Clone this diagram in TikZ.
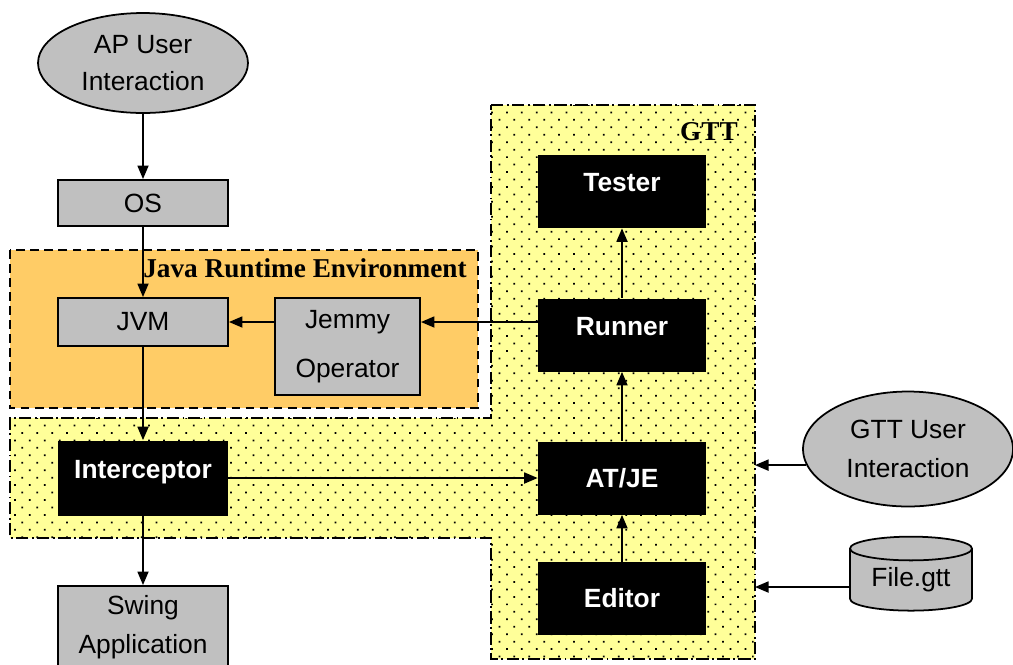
\documentclass[tikz,border=0pt]{standalone}
\usepackage{fontspec}
\setmainfont{Liberation Sans}
\newfontfamily\labelfont{Liberation Serif}
\usetikzlibrary{arrows.meta, shapes.geometric, patterns.meta}

\definecolor{boxgray}{RGB}{192,192,192}
\definecolor{jreorange}{RGB}{255,204,102}
\definecolor{gttyellow}{RGB}{255,255,153}

\begin{document}
\begin{tikzpicture}[x=0.02cm, y=-0.02cm,
    font=\fontsize{15}{21.5}\selectfont,
    arr/.style={-{Triangle[length=0.27cm, width=0.22cm]}, line width=1pt},
    graybox/.style={draw, line width=1.1pt, fill=boxgray, minimum width=3.4cm, align=center, inner sep=0pt},
    blackbox/.style={fill=black, text=white, font=\fontsize{15}{18}\selectfont\bfseries, minimum width=3.36cm, minimum height=1.46cm, inner sep=0pt},
    toptext/.style={text height=0.3cm, text depth=0.3cm},
    user/.style={ellipse, draw, line width=1pt, fill=boxgray, align=center, inner sep=0pt, minimum width=4.2cm},
    regionlbl/.style={font=\labelfont\bfseries\fontsize{15.5}{18}\selectfont, inner sep=0pt},
    dashdot/.style={line width=1.1pt, dash pattern=on 7pt off 2pt on 1pt off 2pt}]
    \useasboundingbox (0,0) rectangle (1013,664);

    % JRE 区域
    \draw[fill=jreorange, line width=1.1pt, dash pattern=on 5pt off 3pt] (10,250) rectangle (478,408);
    \node[regionlbl, anchor=east] (jrelbl) at (467,268) {Java Runtime Environment};

    % GTT 区域
    \draw[dashdot, preaction={fill=gttyellow}, pattern={Dots[distance=6pt, angle=45, radius=0.7pt]}]
        (491,105) -- (755,105) -- (755,659) -- (491,659) -- (491,538)
        -- (10,538) -- (10,418) -- (491,418) -- cycle;
    \node[regionlbl, anchor=east] (gttlbl) at (738,132) {GTT};
    \coordinate (gttE) at (755,0);

    % 左侧
    \node[user, minimum height=2cm] (apui) at (143,63) {AP User\\Interaction};
    \node[graybox, minimum height=0.92cm] (os) at (143,203) {OS};
    \node[graybox, minimum height=0.96cm] (jvm) at (143,322) {JVM};
    \node[graybox, minimum width=2.9cm, minimum height=1.94cm, font=\fontsize{15}{27.5}\selectfont] (jemmy) at (347.5,346.5) {Jemmy\\Operator};
    \node[blackbox, toptext, minimum width=3.4cm, minimum height=1.5cm] (icpt) at (143,478) {Interceptor};
    \node[graybox, minimum height=1.64cm, font=\fontsize{15}{22}\selectfont] (swing) at (143,627) {Swing\\Application};

    % GTT 内部
    \node[blackbox, toptext] (tester) at (622,191.5) {Tester};
    \node[blackbox, toptext] (runner) at (622,335) {Runner};
    \node[blackbox] (atje) at (622,478) {AT/JE};
    \node[blackbox] (editor) at (622,598.5) {Editor};

    % 右侧输入
    \node[user, minimum height=2.3cm, font=\fontsize{15}{22.5}\selectfont] (gttui) at (908,449) {GTT User\\Interaction};
    \node[cylinder, shape border rotate=90, draw, line width=1pt, fill=boxgray, aspect=0.3,
        minimum width=2.44cm, minimum height=1.48cm, inner sep=0pt] (file) at (911,580) {File.gtt};

    % 箭头
    \draw[arr] (apui) -- (os);
    \draw[arr] (os) -- (jvm);
    \draw[arr] (jvm) -- (icpt);
    \draw[arr] (icpt) -- (swing);
    \draw[arr] (runner.west |- jvm) -- (jemmy.east |- jvm);
    \draw[arr] (jemmy.west |- jvm) -- (jvm);
    \draw[arr] (icpt) -- (atje);
    \draw[arr] (runner) -- (tester);
    \draw[arr] (atje) -- (runner);
    \draw[arr] (editor) -- (atje);
    \draw[arr] (gttui.189) -- (gttui.189 -| gttE);
    \draw[arr] ([yshift=-0.14cm]file.west) -- ([yshift=-0.14cm]file.west -| gttE);
\end{tikzpicture}
\end{document}
